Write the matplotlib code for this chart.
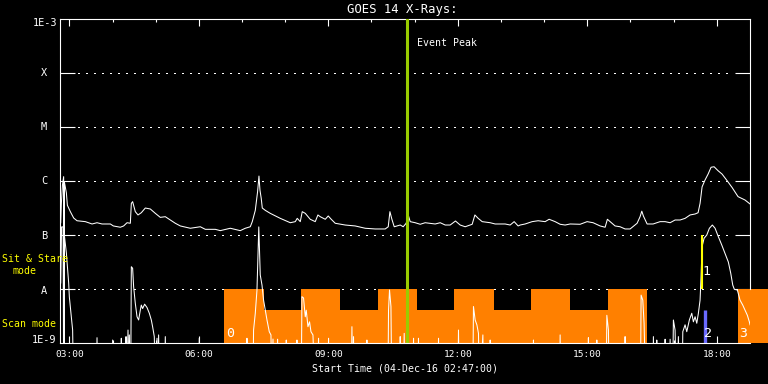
import numpy as np
import matplotlib
matplotlib.use("Agg")
import matplotlib.pyplot as plt
from matplotlib.ticker import NullLocator

plt.rcParams['font.family'] = ['DejaVu Sans Mono', 'DejaVu Sans']

## Data (time in decimal hours UT, flux in W/m^2)
F = 1e-10   # below the plot floor (clipped)

long_t = [2.800, 2.815, 2.840, 2.868, 2.875, 2.884, 2.931, 2.954, 3.023, 3.100, 3.178, 3.371,
          3.526, 3.641, 3.757, 3.950, 4.019, 4.181, 4.258, 4.336, 4.413, 4.436, 4.466, 4.528,
          4.591, 4.667, 4.760, 4.876, 4.992, 5.107, 5.223, 5.339, 5.455, 5.571, 5.802, 6.034,
          6.150, 6.381, 6.497, 6.729, 6.960, 7.076, 7.192, 7.238, 7.308, 7.361, 7.393, 7.416,
          7.446, 7.470, 7.539, 7.655, 7.887, 8.119, 8.234, 8.280, 8.350, 8.396, 8.466, 8.581,
          8.697, 8.759, 8.813, 8.929, 8.998, 9.068, 9.160, 9.392, 9.623, 9.855, 10.087, 10.318,
          10.388, 10.427, 10.473, 10.527, 10.596, 10.666, 10.735, 10.804, 10.851, 10.897, 11.013, 11.129,
          11.244, 11.476, 11.592, 11.708, 11.823, 11.946, 12.055, 12.171, 12.333, 12.396, 12.472, 12.565,
          12.750, 12.866, 13.097, 13.213, 13.306, 13.398, 13.445, 13.560, 13.722, 13.861, 14.023, 14.116,
          14.255, 14.371, 14.487, 14.603, 14.834, 14.996, 15.135, 15.297, 15.413, 15.466, 15.529, 15.644,
          15.760, 15.876, 15.992, 16.154, 16.223, 16.263, 16.300, 16.386, 16.525, 16.687, 16.803, 16.919,
          17.034, 17.150, 17.266, 17.382, 17.498, 17.567, 17.613, 17.660, 17.729, 17.799, 17.868, 17.938,
          18.030, 18.123, 18.238, 18.354, 18.493, 18.655, 18.771]
long_f = [1.71e-7, 3.9e-7, 8.5e-7, 1.22e-6, F, 9.8e-7, 6.1e-7, 3.6e-7, 2.74e-7, 2.09e-7, 1.86e-7, 1.79e-7,
          1.62e-7, 1.71e-7, 1.62e-7, 1.62e-7, 1.49e-7, 1.41e-7, 1.49e-7, 1.71e-7, 1.67e-7, 3.9e-7, 4.2e-7, 2.74e-7,
          2.38e-7, 2.62e-7, 3.2e-7, 3.07e-7, 2.55e-7, 2.15e-7, 2.21e-7, 1.92e-7, 1.67e-7, 1.49e-7, 1.35e-7, 1.44e-7,
          1.29e-7, 1.29e-7, 1.22e-7, 1.35e-7, 1.22e-7, 1.35e-7, 1.44e-7, 1.79e-7, 2.9e-7, 6.4e-7, 1.25e-6, 6.9e-7,
          4.8e-7, 3.2e-7, 2.9e-7, 2.55e-7, 2.06e-7, 1.71e-7, 1.79e-7, 2.06e-7, 1.79e-7, 2.74e-7, 2.55e-7, 1.98e-7,
          1.79e-7, 2.38e-7, 2.21e-7, 1.98e-7, 2.28e-7, 1.98e-7, 1.67e-7, 1.55e-7, 1.49e-7, 1.35e-7, 1.31e-7, 1.31e-7,
          1.44e-7, 2.74e-7, 1.98e-7, 1.44e-7, 1.49e-7, 1.55e-7, 1.44e-7, 1.67e-7, 2.38e-7, 1.79e-7, 1.71e-7, 1.60e-7,
          1.71e-7, 1.62e-7, 1.71e-7, 1.55e-7, 1.55e-7, 1.84e-7, 1.55e-7, 1.44e-7, 1.60e-7, 2.38e-7, 2.06e-7, 1.79e-7,
          1.71e-7, 1.62e-7, 1.62e-7, 1.55e-7, 1.79e-7, 1.49e-7, 1.55e-7, 1.62e-7, 1.79e-7, 1.86e-7, 1.79e-7, 1.98e-7,
          1.79e-7, 1.60e-7, 1.55e-7, 1.62e-7, 1.60e-7, 1.79e-7, 1.71e-7, 1.49e-7, 1.41e-7, 1.98e-7, 1.79e-7, 1.49e-7,
          1.44e-7, 1.31e-7, 1.31e-7, 1.67e-7, 2.21e-7, 2.8e-7, 2.28e-7, 1.62e-7, 1.62e-7, 1.79e-7, 1.79e-7, 1.71e-7,
          1.92e-7, 1.92e-7, 2.06e-7, 2.38e-7, 2.48e-7, 2.62e-7, 3.9e-7, 7.9e-7, 1.06e-6, 1.36e-6, 1.82e-6, 1.86e-6,
          1.57e-6, 1.36e-6, 1.03e-6, 7.7e-7, 5.2e-7, 4.5e-7, 3.8e-7]

short_t = [2.800, 2.820, 2.855, 2.868, 2.880, 2.884, 2.931, 2.984, 3.000, 3.046, 3.076, 3.100,
           3.620, 3.641, 3.660, 3.980, 4.003, 4.020, 4.190, 4.204, 4.220, 4.300, 4.313, 4.330,
           4.359, 4.375, 4.390, 4.420, 4.436, 4.466, 4.489, 4.528, 4.568, 4.605, 4.644, 4.667,
           4.698, 4.744, 4.799, 4.853, 4.899, 4.929, 4.968, 5.000, 5.031, 5.050, 5.068, 5.090,
           5.200, 5.223, 5.250, 5.990, 6.010, 6.030, 7.100, 7.115, 7.130, 7.250, 7.268, 7.308,
           7.347, 7.389, 7.423, 7.463, 7.500, 7.539, 7.579, 7.632, 7.671, 7.694, 7.718, 7.740,
           7.810, 7.824, 7.840, 8.010, 8.026, 8.040, 8.260, 8.273, 8.290, 8.370, 8.389, 8.426,
           8.466, 8.489, 8.528, 8.565, 8.598, 8.644, 8.697, 8.760, 8.773, 8.790, 8.990, 9.005,
           9.020, 9.530, 9.547, 9.565, 9.584, 9.600, 9.880, 9.894, 9.910, 10.380, 10.395, 10.418,
           10.451, 10.473, 10.650, 10.666, 10.680, 10.740, 10.758, 10.775, 10.960, 10.974, 10.990, 11.075,
           11.089, 11.105, 11.540, 11.553, 11.570, 12.000, 12.016, 12.035, 12.345, 12.363, 12.402, 12.442,
           12.479, 12.500, 12.581, 12.600, 12.735, 12.750, 12.765, 13.740, 13.753, 13.770, 14.355, 14.371,
           14.390, 15.010, 15.026, 15.040, 15.205, 15.221, 15.235, 15.435, 15.453, 15.490, 15.510, 15.860,
           15.876, 15.890, 16.230, 16.247, 16.286, 16.316, 16.356, 16.515, 16.532, 16.550, 16.595, 16.610,
           16.625, 16.790, 16.803, 16.820, 16.905, 16.919, 16.940, 16.975, 16.995, 17.034, 17.070, 17.111,
           17.130, 17.195, 17.213, 17.266, 17.305, 17.365, 17.421, 17.458, 17.498, 17.537, 17.574, 17.613,
           17.636, 17.660, 17.706, 17.768, 17.829, 17.898, 17.961, 18.037, 18.116, 18.192, 18.268, 18.324,
           18.370, 18.407, 18.477, 18.539, 18.602, 18.655, 18.709, 18.755, 18.771]
short_f = [1.31e-8, 1.43e-7, 1.43e-7, F, 1.20e-7, 1.01e-7, 4.7e-8, 1.31e-8, 7.2e-9, 3.1e-9, 1.76e-9, F,
           F, 1.27e-9, F, F, 1.15e-9, F, F, 1.24e-9, F, F, 1.33e-9, F,
           1.76e-9, F, 1.43e-9, F, 2.62e-8, 2.45e-8, 1.12e-8, 5.5e-9, 3.1e-9, 2.7e-9, 4.1e-9, 5.1e-9,
           4.4e-9, 5.3e-9, 4.6e-9, 3.6e-9, 2.7e-9, 2.03e-9, 1.33e-9, F, 1.24e-9, F, 1.43e-9, F,
           F, 1.33e-9, F, F, 1.24e-9, F, F, 1.24e-9, F, F, 1.76e-9, 3.6e-9,
           9.7e-9, 1.43e-7, 1.84e-8, 1.2e-8, 6.3e-9, 4.1e-9, 2.7e-9, 1.64e-9, 1.43e-9, F, 1.2e-9, F,
           F, 1.19e-9, F, F, 1.15e-9, F, F, 1.15e-9, F, F, 7.3e-9, 6.9e-9,
           3.1e-9, 4.1e-9, 2.03e-9, 2.5e-9, 1.64e-9, 1.43e-9, F, F, 1.24e-9, F, F, 1.24e-9,
           F, F, 2.03e-9, F, 1.33e-9, F, F, 1.15e-9, F, F, 4.1e-9, 9.7e-9,
           4.8e-9, F, F, 1.33e-9, F, F, 1.53e-9, F, F, 1.24e-9, F, F,
           1.24e-9, F, F, 1.24e-9, F, F, 1.76e-9, F, F, 4.8e-9, 2.7e-9, 2.2e-9,
           1.53e-9, F, 1.43e-9, F, F, 1.15e-9, F, F, 1.15e-9, F, F, 1.43e-9,
           F, F, 1.27e-9, F, F, 1.15e-9, F, F, 3.3e-9, 1.76e-9, F, F,
           1.33e-9, F, F, 7.8e-9, 6.3e-9, 2.35e-9, F, F, 1.33e-9, F, F, 1.15e-9,
           F, F, 1.19e-9, F, F, 1.19e-9, F, F, 2.7e-9, 1.76e-9, F, 1.33e-9,
           F, F, 1.64e-9, 2.2e-9, 1.64e-9, 2.7e-9, 3.6e-9, 2.5e-9, 3.1e-9, 2.35e-9, 3.6e-9, 6.3e-9,
           1.71e-8, 6.2e-8, 8.8e-8, 1.01e-7, 1.35e-7, 1.55e-7, 1.35e-7, 9.4e-8, 6.6e-8, 4.6e-8, 3.2e-8, 1.98e-8,
           1.2e-8, 1.0e-8, 9.7e-9, 6.3e-9, 5.1e-9, 4.1e-9, 3.3e-9, 2.5e-9, 2.2e-9]

# observing mode blocks (sit & stare = high, scan = low)
mode_start = [6.590, 7.516, 8.373, 9.276, 10.156, 11.059, 11.916, 12.842, 13.699, 14.603, 15.483, 18.486]
mode_end = [7.516, 8.373, 9.276, 10.156, 11.059, 11.916, 12.842, 13.699, 14.603, 15.483, 16.386, 19.188]
mode_kind = ['stare', 'scan', 'stare', 'scan', 'stare', 'scan', 'stare', 'scan', 'stare', 'scan', 'stare', 'stare']
mode_level = {'stare': 1e-8, 'scan': 4.1e-9}

event_peak = 10.82
marker1_t, marker1_lo, marker1_hi = 17.66, 1e-8, 1e-7
marker2_t, marker2_lo, marker2_hi = 17.72, 1e-9, 4.1e-9

level_vals = [1e-8, 1e-7, 1e-6, 1e-5, 1e-4]
hour_ticks = [3, 6, 9, 12, 15, 18]
hour_labels = ['03:00', '06:00', '09:00', '12:00', '15:00', '18:00']

## Figure
W, H = 768, 384
fig = plt.figure(figsize=(W/100, H/100), dpi=100, facecolor='black')
ax = fig.add_axes([60/W, 1-343.3/H, 690/W, (343.3-19.3)/H])
ax.set_facecolor('black')
ax.set_yscale('log')
ax.set_xlim(2.7833, 18.77)
ax.set_ylim(1e-9, 1e-3)

def px(x, y):
    return x/W, 1 - y/H

# orange mode blocks
lv = [mode_level[k] for k in mode_kind]
widths = [e - s for s, e in zip(mode_start, mode_end)]
bars = ax.bar(mode_start, [v - 1e-9 for v in lv], width=widths, bottom=1e-9, align='edge',
              color='#ff8000', linewidth=0, zorder=2)
for b in bars:
    b.set_clip_on(False)

# dotted level lines
for v in level_vals:
    ax.axhline(v, xmin=18/690, xmax=1-18/690, color='white', lw=0.9, ls=(0, (1, 5)),
               antialiased=False, zorder=1)

ax.plot(long_t, long_f, color='white', lw=0.75, zorder=4)
ax.plot(short_t, short_f, color='white', lw=0.75, zorder=4)

ax.axvline(event_peak, color='#99cc00', lw=2.2, zorder=5)
ax.vlines(marker1_t, marker1_lo, marker1_hi, color='#ffff00', lw=1.5, zorder=4.5)
ax.vlines(marker2_t, marker2_lo, marker2_hi, color='#6a6aff', lw=2.4, zorder=3.5)

for s, lab in [(6.72, '0'), (17.77, '1'), (17.79, '2'), (18.61, '3')]:
    yv = 2.1e-8 if lab == '1' else 1.55e-9
    ax.text(s, yv, lab, color='white', fontsize=9.5, ha='center', va='center', zorder=6, clip_on=False)

# axes styling
for sp in ax.spines.values():
    sp.set_color('white')
    sp.set_linewidth(0.8)
ax.spines['right'].set_bounds(1e-8, 1e-3)
ax.spines['bottom'].set_zorder(6)

ax.set_yticks(level_vals)
ax.yaxis.set_minor_locator(NullLocator())
ax.tick_params(axis='y', which='major', direction='in', length=10.8, width=0.8, colors='white',
               left=True, right=True, labelleft=False)
ax.set_xticks(hour_ticks, hour_labels)
ax.set_xticks(range(3, 19), minor=True)
ax.tick_params(axis='x', which='major', direction='in', length=4.7, width=0.8, colors='white',
               top=True, bottom=True, labelsize=6.8, pad=5)
ax.tick_params(axis='x', which='minor', direction='in', length=2.5, width=0.8, colors='white',
               top=True, bottom=True)

# y labels
fig.text(*px(57, 23), '1E-3', color='white', fontsize=7.4, ha='right', va='center')
fig.text(*px(56, 340.3), '1E-9', color='white', fontsize=7.4, ha='right', va='center')
for yp, lab in [(73.5, 'X'), (127.5, 'M'), (181.5, 'C'), (236, 'B'), (290.5, 'A')]:
    fig.text(*px(44, yp), lab, color='white', fontsize=7.4, ha='center', va='center')

fig.text(*px(2, 259.3), 'Sit & Stare', color='#ffff00', fontsize=7.1, ha='left', va='center')
fig.text(*px(12.7, 271), 'mode', color='#ffff00', fontsize=7.1, ha='left', va='center')
fig.text(*px(2, 324.3), 'Scan mode', color='#ffff00', fontsize=7.1, ha='left', va='center')

fig.text(*px(402, 10), 'GOES 14 X-Rays:', color='white', fontsize=8.8, ha='center', va='center')
fig.text(*px(417, 43), 'Event Peak', color='white', fontsize=7.1, ha='left', va='center')
fig.text(*px(405, 368.3), 'Start Time (04-Dec-16 02:47:00)', color='white', fontsize=7.1,
         ha='center', va='center')

fig.savefig('out.png', dpi=100, facecolor='black')
